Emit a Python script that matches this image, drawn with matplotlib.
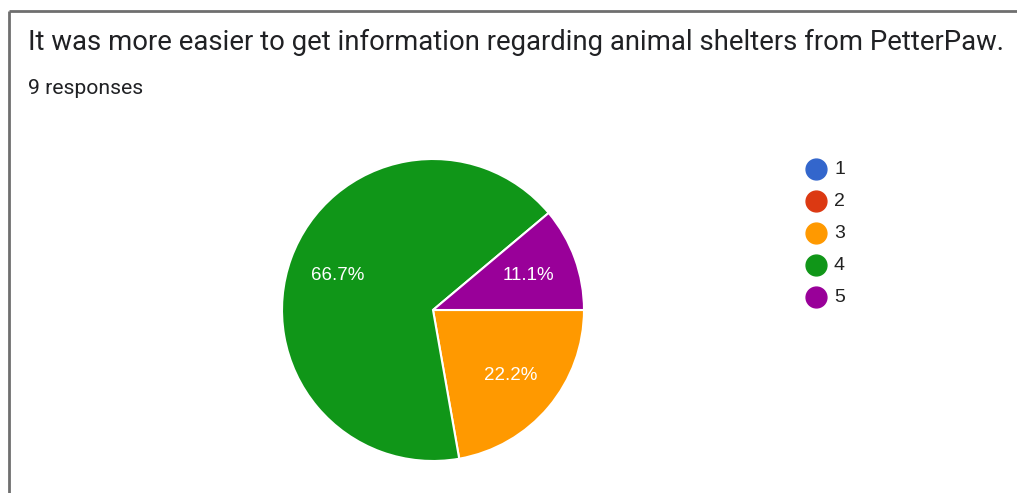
import matplotlib
matplotlib.use("Agg")
import matplotlib.pyplot as plt

# Survey responses per rating
categories = ["1", "2", "3", "4", "5"]
counts = [0, 0, 2, 6, 1]
colors = ["#3366cc", "#dc3912", "#ff9900", "#109618", "#990099"]
title = "It was more easier to get information regarding animal shelters from PetterPaw."
subtitle = "9 responses"

W, H = 1017, 493
fig = plt.figure(figsize=(W / 100, H / 100), dpi=100)
ax = fig.add_axes([0, 0, 1, 1])

# card border (top and left edges)
ax.plot([9, W], [H - 11, H - 11], color="#6f6f6f", lw=2, solid_capstyle="butt")
ax.plot([9, 9], [H - 11, 0], color="#6f6f6f", lw=2, solid_capstyle="butt")

ax.text(28, H - 42, title, fontsize=19.8, family="Roboto", color="#202124",
        va="center", ha="left")
ax.text(28, H - 89, subtitle, fontsize=15.2, family="Roboto", color="#202124",
        va="center", ha="left")

def pct(p):
    return f"{p:.1f}%" if p > 0 else ""

ax.pie(
    counts, colors=colors, startangle=0, counterclock=False,
    center=(433, H - 310), radius=151, autopct=pct, pctdistance=0.67,
    wedgeprops=dict(edgecolor="white", linewidth=1.5),
    textprops=dict(color="white", fontsize=13.5, family="Liberation Sans"),
    frame=True,
)
ax.set_xlim(0, W)
ax.set_ylim(0, H)
ax.set_aspect("equal")
ax.axis("off")

# legend
for i, (cat, col) in enumerate(zip(categories, colors)):
    y = H - (169 + 32 * i)
    ax.plot(816, y, "o", ms=15, color=col, mec=col)
    ax.text(834, y, cat, fontsize=14, family="Liberation Sans", color="#222222",
            va="center", ha="left")

fig.savefig("out.png", dpi=100)
